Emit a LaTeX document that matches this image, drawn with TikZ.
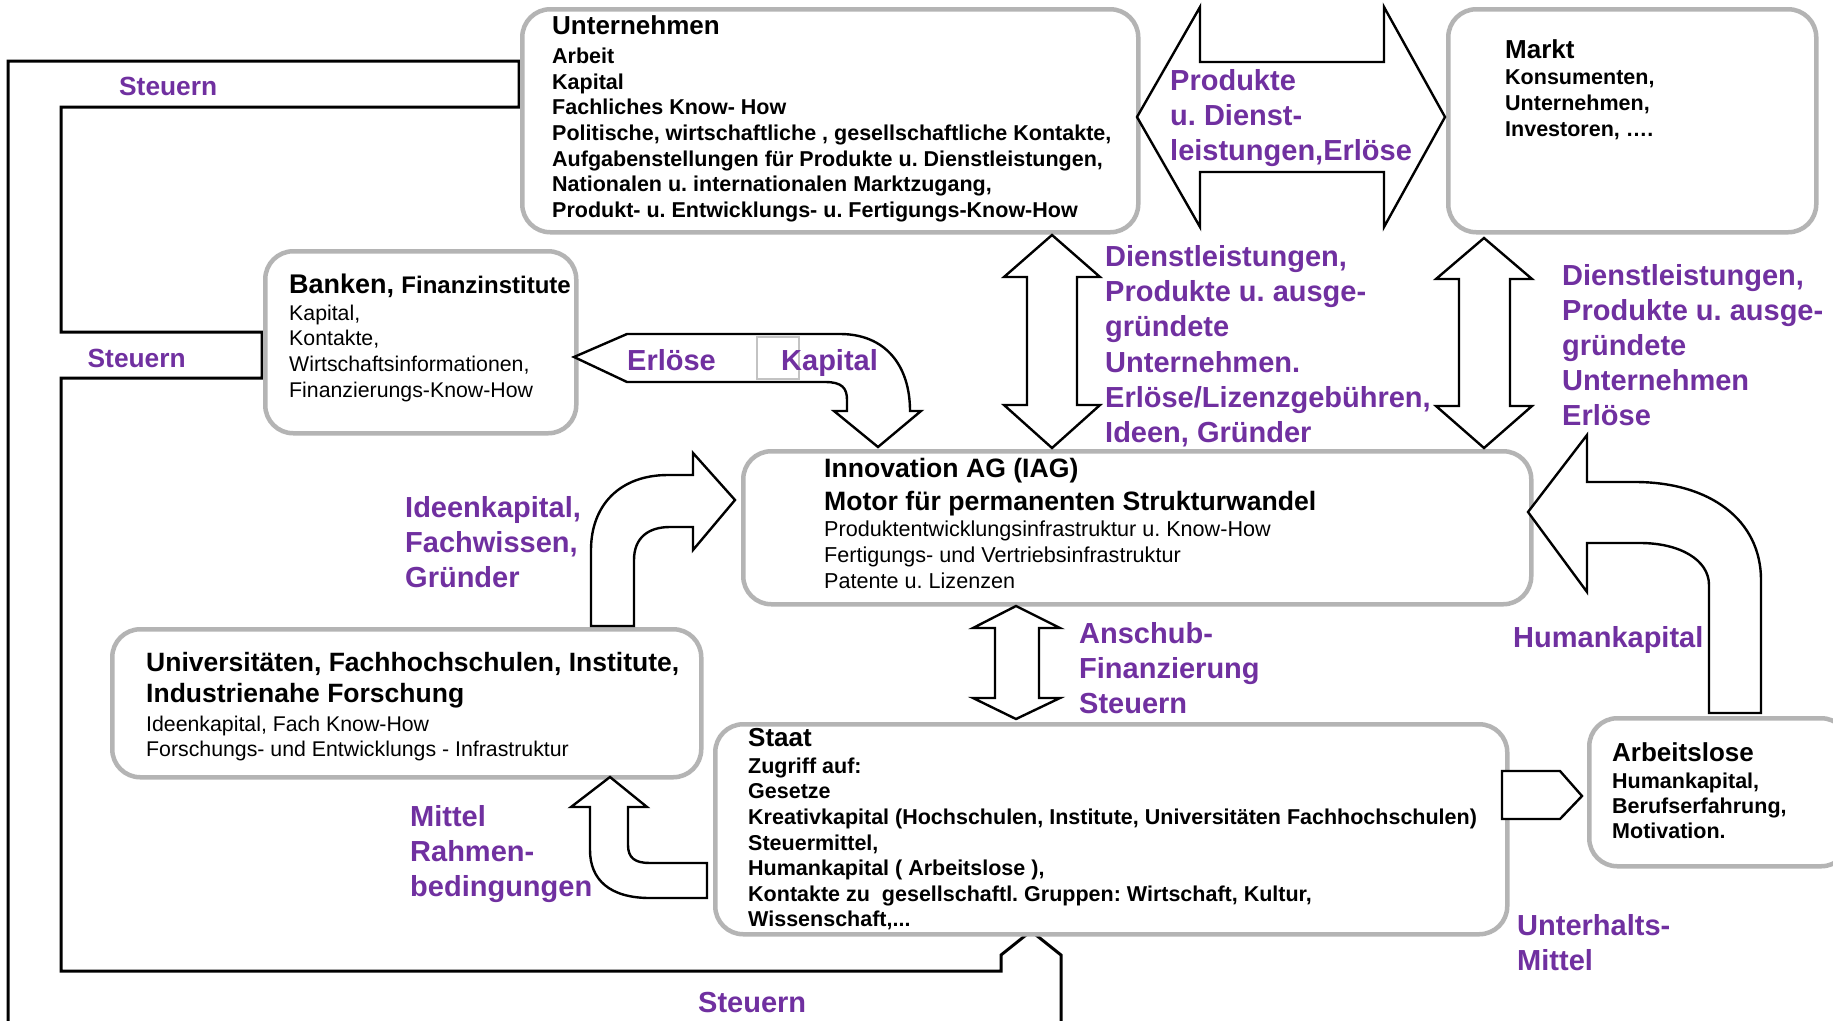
\documentclass[tikz,border=0pt]{standalone}
\usepackage{fontspec}
\setmainfont{Liberation Sans}
\frenchspacing
\definecolor{lilac}{HTML}{7030A0}
\definecolor{boxgray}{HTML}{B4B4B4}
\newcommand\fsz[2]{\fontsize{#1pt}{#2pt}\selectfont}
\tikzset{
  box/.style={draw=boxgray, line width=4.5pt, rounded corners=28pt, fill=white, anchor=north west, inner sep=0pt},
  barrow/.style={draw=black, line width=2.4pt, fill=white, line join=miter},
  wire/.style={draw=black, line width=3pt},
  lbl/.style={text=lilac, font=\bfseries\fsz{29}{35}, inner sep=0pt, align=left},
  ttl/.style={font=\bfseries\fsz{26}{31}, inner sep=0pt, anchor=base west},
  bodyb/.style={font=\bfseries\fsz{21.5}{25.7}, inner sep=0pt, align=left, anchor=north west},
  bodyr/.style={font=\fsz{21.3}{25.6}, inner sep=0pt, align=left, anchor=north west}
}
\begin{document}
\frenchspacing
\begin{tikzpicture}[x=1pt,y=-1pt]
\useasboundingbox (0,0) rectangle (1833,1020);
\clip (0,0) rectangle (1833,1020);
\fill[white] (0,0) rectangle (1833,1020);

% Steuern wires
\draw[wire] (8,1030) -- (8,61) -- (519,61) -- (519,107) -- (61,107) -- (61,332) -- (262,332) -- (262,378) -- (61,378) -- (61,971) -- (1001,971) -- (1001,955) -- (1031,931) -- (1061,955) -- (1061,1030);

% boxes
\node[box, minimum width=616pt, minimum height=223pt] (unt) at (520,7) {};
\node[box, minimum width=368pt, minimum height=223pt] (markt) at (1446,7) {};
\node[box, minimum width=311pt, minimum height=182pt] (bank) at (263,249) {};
\node[box, minimum width=788pt, minimum height=153pt] (iag) at (741,449) {};
\node[box, minimum width=589pt, minimum height=148pt] (uni) at (110,627) {};
\node[box, minimum width=792pt, minimum height=210pt] (staat) at (713,722) {};
\node[box, minimum width=260pt, minimum height=148pt] (arb) at (1587,716) {};

% block arrows
\draw[barrow] (1137,117) -- (1200,7) -- (1200,62) -- (1384,62) -- (1384,7) -- (1445,117) -- (1384,227) -- (1384,172) -- (1200,172) -- (1200,227) -- cycle;
\draw[barrow] (1052,235) -- (1100,277) -- (1077,277) -- (1077,405) -- (1100,405) -- (1052,448) -- (1004,405) -- (1027,405) -- (1027,277) -- (1004,277) -- cycle;
\draw[barrow] (1484,238) -- (1532,279) -- (1510,279) -- (1510,406) -- (1532,406) -- (1484,448) -- (1436,406) -- (1459,406) -- (1459,279) -- (1436,279) -- cycle;
\draw[barrow] (1016,606) -- (1060,628) -- (1039,628) -- (1039,698) -- (1060,698) -- (1016,719) -- (973,698) -- (995,698) -- (995,628) -- (973,628) -- cycle;
\draw[barrow] (574,357) -- (627,334) -- (840,334) .. controls (885,334) and (910,365) .. (910,411) -- (921,411) -- (878,447) -- (834,411) -- (847,411) -- (847,400) .. controls (847,388) and (842,382) .. (825,382) -- (627,382) -- cycle;
\draw[barrow] (735,500) -- (693,453) -- (693,475) -- (668,475) .. controls (620,475) and (591,505) .. (591,550) -- (591,626) -- (634,626) -- (634,560) .. controls (634,538) and (648,527) .. (670,527) -- (693,527) -- (693,550) -- cycle;
\draw[barrow] (1528,512) -- (1587,435) -- (1587,482) -- (1635,482) .. controls (1710,482) and (1761,520) .. (1761,580) -- (1761,713) -- (1709,713) -- (1709,585) .. controls (1709,560) and (1680,543) .. (1640,543) -- (1587,543) -- (1587,592) -- cycle;
\draw[barrow] (610,777) -- (647,807) -- (628,807) -- (628,845) .. controls (628,858) and (635,863) .. (650,863) -- (707,863) -- (707,898) -- (650,898) .. controls (610,898) and (590,880) .. (590,850) -- (590,807) -- (571,807) -- cycle;
\draw[barrow] (1502,771) -- (1560,771) -- (1582,796) -- (1560,819) -- (1502,819) -- cycle;
\draw[boxgray!80, line width=2pt] (757,337) rectangle (799,379);

% box texts
\node[ttl] (untT) at (552,34) {Unternehmen};
\node[bodyb] (untB) at (552,47.6) {Arbeit\\Kapital\\Fachliches Know- How\\Politische, wirtschaftliche , gesellschaftliche Kontakte,\\Aufgabenstellungen für Produkte u. Dienstleistungen,\\Nationalen u. internationalen Marktzugang,\\Produkt- u. Entwicklungs- u. Fertigungs-Know-How};
\node[ttl] (marktT) at (1505,58) {Markt};
\node[bodyb, font=\bfseries\fsz{21.5}{26}] (marktB) at (1505,69.6) {Konsumenten,\\Unternehmen,\\Investoren, ….};
\node[ttl] (bankT) at (289,293) {{\fsz{27}{32}Banken,} {\fsz{24}{29}Finanzinstitute}};
\node[bodyr] (bankB) at (289,304.7) {Kapital,\\Kontakte,\\Wirtschaftsinformationen,\\Finanzierungs-Know-How};
\node[bodyb, font=\bfseries\fsz{26.6}{33}] (iagT) at (824,458) {Innovation AG (IAG)\\Motor für permanenten Strukturwandel};
\node[bodyr, font=\fsz{21.6}{26}] (iagB) at (824,520.7) {Produktentwicklungsinfrastruktur u. Know-How\\Fertigungs- und Vertriebsinfrastruktur\\Patente u. Lizenzen};
\node[bodyb, font=\bfseries\fsz{26.5}{31}] (uniT) at (146,652) {Universitäten, Fachhochschulen, Institute,\\Industrienahe Forschung};
\node[bodyr, font=\fsz{21.3}{25}] (uniB) at (146,715.7) {Ideenkapital, Fach Know-How\\Forschungs- und Entwicklungs - Infrastruktur};
\node[ttl] (staatT) at (748,746) {Staat};
\node[bodyb, font=\bfseries\fsz{21.5}{25.6}] (staatB) at (748,757.6) {Zugriff auf:\\Gesetze\\Kreativkapital (Hochschulen, Institute, Universitäten Fachhochschulen)\\Steuermittel,\\Humankapital ( Arbeitslose ),\\Kontakte zu\ \ gesellschaftl. Gruppen: Wirtschaft, Kultur,\\Wissenschaft,...};
\node[ttl] (arbT) at (1612,761) {Arbeitslose};
\node[bodyb, font=\bfseries\fsz{21.5}{25}] (arbB) at (1612,772.6) {Humankapital,\\Berufserfahrung,\\Motivation.};

% purple labels
\node[lbl, anchor=base west, font=\bfseries\fsz{26.3}{32}] (stTop) at (119,95) {Steuern};
\node[lbl, anchor=base west, font=\bfseries\fsz{26.3}{32}] (stMid) at (87.5,367) {Steuern};
\node[lbl, anchor=base west] (stBot) at (698,1012) {Steuern};
\node[lbl, anchor=north west] (prod) at (1170,69.2) {Produkte\\u. Dienst-\\leistungen,Erlöse};
\node[lbl, anchor=north west, font=\bfseries\fsz{29}{35.2}] (dienstA) at (1105,245.2) {Dienstleistungen,\\Produkte u. ausge-\\gründete\\Unternehmen.\\Erlöse/Lizenzgebühren,\\Ideen, Gründer};
\node[lbl, anchor=north west] (dienstB) at (1562,264.2) {Dienstleistungen,\\Produkte u. ausge-\\gründete\\Unternehmen\\Erlöse};
\node[lbl, anchor=north west] (ideen) at (405,496.2) {Ideenkapital,\\Fachwissen,\\Gründer};
\node[lbl, anchor=north west] (anschub) at (1079,622.2) {Anschub-\\Finanzierung\\Steuern};
\node[lbl, anchor=base west] (human) at (1513,647) {Humankapital};
\node[lbl, anchor=north west] (unterh) at (1517,914.2) {Unterhalts-\\Mittel};
\node[lbl, anchor=north west] (mittel) at (410,805.2) {Mittel\\Rahmen-\\bedingungen};
\node[lbl, anchor=base west] (erl) at (627,370) {Erlöse};
\node[lbl, anchor=base west] (kap) at (781,370) {Kapital};
\end{tikzpicture}
\end{document}
